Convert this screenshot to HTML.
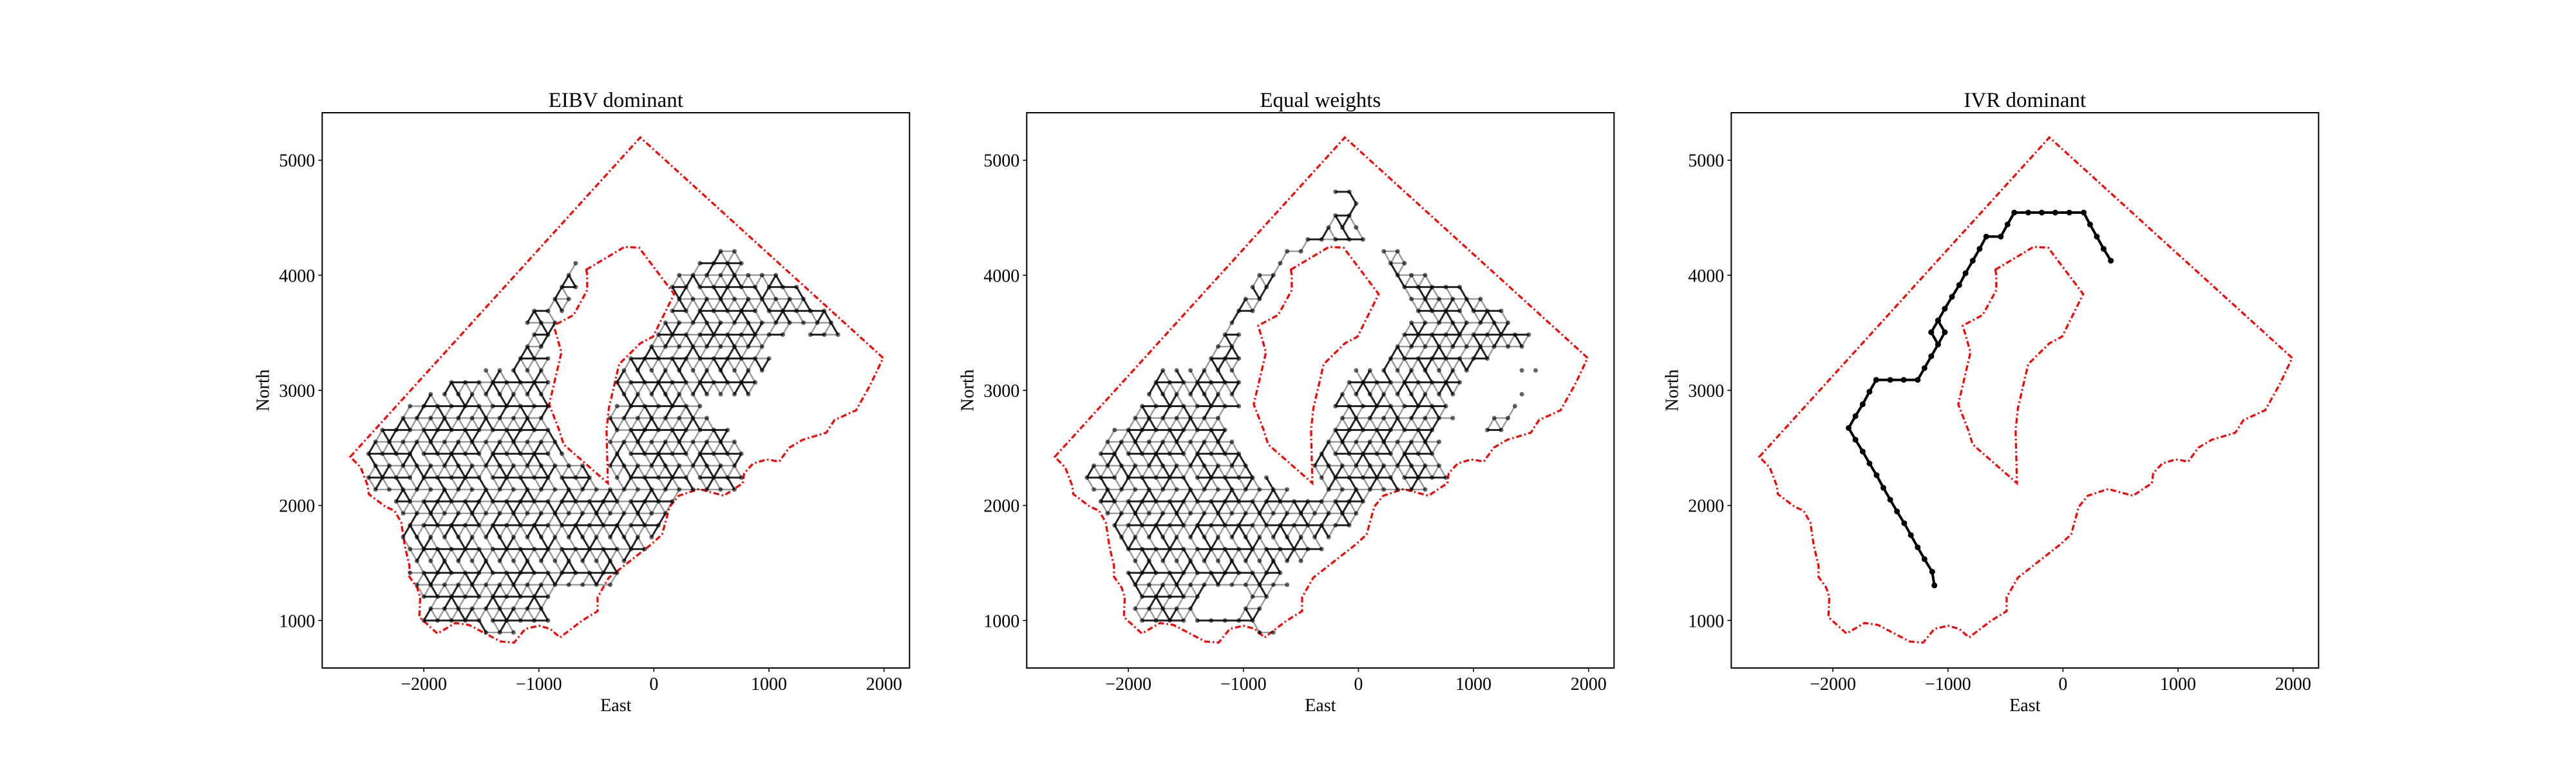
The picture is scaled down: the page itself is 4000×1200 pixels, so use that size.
<!DOCTYPE html>
<html><head><meta charset="utf-8"><style>
html,body{margin:0;padding:0;background:#fff}
svg{display:block}
text{font-family:"Liberation Serif",serif;fill:#000}
</style></head><body>
<svg id="fig" width="4000" height="1200" viewBox="0 0 4000 1200" xmlns="http://www.w3.org/2000/svg">
<rect width="4000" height="1200" fill="#fff"/>
</svg>
<script>
// ---- data ----
const panelTitles = ["EIBV dominant", "Equal weights", "IVR dominant"];
const xTicks = [-2000, -1000, 0, 1000, 2000];
const yTicks = [1000, 2000, 3000, 4000, 5000];
const outerX = [-2639,-118,1992,1882,1757,1569,1498,1294,1176,1090,980,863,784,773,608,392,216,137,71,-20,-392,-490,-490,-627,-816,-902,-1000,-1118,-1216,-1333,-1608,-1725,-1882,-2039,-2031,-2059,-2125,-2125,-2165,-2196,-2255,-2333,-2478,-2490,-2549];
const outerY = [2423,5198,3282,3050,2827,2742,2632,2571,2502,2382,2400,2365,2280,2194,2085,2143,2085,1989,1749,1664,1373,1202,1082,997,853,928,955,928,808,818,962,979,887,1031,1202,1287,1380,1476,1647,1852,1955,1989,2098,2177,2331];
const innerX = [-588,-255,-129,176,-8,-118,-302,-392,-412,-400,-784,-824,-910,-804,-871,-698,-580,-580];
const innerY = [4049,4247,4240,3837,3467,3409,3228,2844,2656,2194,2530,2656,2879,3330,3563,3655,3871,4000];
// panel 1 lattice: row index + x extents (data units)
const p1Rows = [-1,0,1,2,3,4,5,6,7,8,9,10,11,12,13,14,15,16,17,18,18,19,19,20,20,21,21,22,22,23,23,24,24,24,25,25,26,26,27,27,28,28,29,29,30,30,31];
const p1Min  = [-1449,-1998,-1998,-2055,-2043,-2092,-2111,-2111,-2168,-2149,-2206,-2225,-2414,-2452,-2452,-2471,-2414,-2339,-2168,-2111,-371,-1922,-371,-1752,-295,-1449,-295,-1203,-182,-1146,-11,-1090,45,1367,-1090,102,-1033,178,-903,178,-770,178,-725,235,-660,405,594];
const p1Max  = [-1203,-901,-901,-844,-295,-295,-219,-68,64,64,121,178,727,764,783,840,783,651,537,-901,462,-901,840,-938,897,-976,954,-938,1011,-976,954,-901,1140,1617,-844,1564,-787,1508,-711,1318,-655,1262,-655,1073,-655,783,727];
// panel 2 lattice
const p2Rows = [-1,0,1,1,2,2,3,3,4,5,6,7,8,9,10,11,11,12,12,13,13,14,14,15,15,16,16,16,17,17,17,18,18,18,19,19,19,20,20,20,21,21,21,22,22,23,23,24,24,25,25,26,26,27,27,28,28,29,29,30,30,31,31,32,33,34,35,36];
const p2Min  = [-850,-1876,-1924,-980,-1941,-931,-1941,-785,-1990,-1990,-2055,-2055,-2104,-2170,-2283,-2348,-313,-2348,-361,-2348,-361,-2299,-361,-2234,-313,-2169,-264,1071,-2006,-183,1120,-1876,-199,1314,-1876,-183,1364,-1810,-134,1412,-1762,-85,1364,-1339,225,-1273,273,-1208,338,-1160,404,-1046,469,-980,404,-915,355,-850,290,-736,225,-671,160,-492,-313,-264,-46,-264];
const p2Max  = [-736,-915,-1404,-850,-1388,-720,-655,-606,-606,-492,-296,-183,-68,-3,45,-541,664,-801,778,-931,778,-1046,729,-1046,778,-1095,713,1315,-1160,827,1380,-1030,827,1429,-1030,892,1478,-1030,940,1445,-1030,1006,1510,-1030,1120,-1030,1494,-1046,1478,-1046,1364,-850,1315,-850,1136,-801,959,-736,648,-686,404,-427,355,61,-17,-17,-17,-17];
// panel 3 path
const p3X = [-1118,-1137,-1204,-1263,-1322,-1380,-1443,-1502,-1561,-1620,-1682,-1741,-1804,-1863,-1804,-1741,-1682,-1624,-1502,-1384,-1263,-1204,-1145,-1086,-1145,-1086,-1027,-1086,-1145,-1086,-1027,-965,-902,-847,-784,-725,-667,-541,-482,-424,-302,-184,-67,55,180,235,294,353,416];
const p3Y = [1305,1424,1534,1636,1742,1845,1948,2050,2153,2263,2365,2468,2571,2673,2776,2879,2988,3091,3091,3091,3091,3193,3296,3399,3505,3607,3505,3399,3505,3607,3710,3813,3915,4018,4127,4230,4336,4336,4442,4545,4545,4545,4545,4545,4545,4442,4336,4230,4127];

// ---- layout ----
const NS = "http://www.w3.org/2000/svg";
const svg = document.getElementById('fig');
const AX_L0 = 500.3, AX_DX = 1094, AX_T = 175, AX_W = 912, AX_H = 862;
const K = 0.17865, X0OFF = 515.1, Y5000 = 248.7;
function sx(p, x){ return AX_L0 + p*AX_DX + X0OFF + x*K; }
function sy(y){ return Y5000 + (5000 - y)*K; }
function mk(tag, attrs, parent){ const e=document.createElementNS(NS,tag); for(const k in attrs) e.setAttribute(k,attrs[k]); (parent||svg).appendChild(e); return e; }
function pip(x,y,X,Y){ let c=false; for(let i=0,j=X.length-1;i<X.length;j=i++){ if(((Y[i]>y)!==(Y[j]>y)) && (x < (X[j]-X[i])*(y-Y[i])/(Y[j]-Y[i])+X[i])) c=!c; } return c; }
const DX=120, DY=103.5;
function nodeX(r,i){ return -2000 + i*DX + ((r%2+2)%2 ? 60 : 0); }
function rowY(r){ return 1000 + r*DY; }
const DASH = '9,4,2.5,4';

function drawBoundary(p, g){
  const o = outerX.map((x,i)=>sx(p,x).toFixed(1)+','+sy(outerY[i]).toFixed(1)).join(' ');
  const e1 = mk('polygon',{points:o,fill:'none',stroke:'#ff0000','stroke-width':3.2,'stroke-dasharray':DASH},g);
  
  
  const n = innerX.map((x,i)=>sx(p,x).toFixed(1)+','+sy(innerY[i]).toFixed(1)).join(' ');
  const e2 = mk('polygon',{points:n,fill:'none',stroke:'#ff0000','stroke-width':3.2,'stroke-dasharray':DASH},g);
  
  
}

function drawLattice(p, rows, mins, maxs, g){
  const set = new Set();
  for(let k=0;k<rows.length;k++){
    const r=rows[k];
    for(let i=-10;i<50;i++){
      const x=nodeX(r,i);
      if(x>=mins[k]-30 && x<=maxs[k]+30 && !pip(x,rowY(r),innerX,innerY)) set.add(r+':'+i);
    }
  }
  const has=(r,i)=>set.has(r+':'+i);
  const edges=[];
  set.forEach(key=>{
    const [r,i]=key.split(':').map(Number);
    const x=nodeX(r,i), y=rowY(r);
    const odd=((r%2)+2)%2;
    const cand=[[r,i+1,0]];
    if(odd){ cand.push([r+1,i,1],[r+1,i+1,2]); } else { cand.push([r+1,i-1,1],[r+1,i,2]); }
    cand.forEach(c=>{
      if(!has(c[0],c[1])) return;
      const x2=nodeX(c[0],c[1]), y2=rowY(c[0]);
      if(pip((x+x2)/2,(y+y2)/2,innerX,innerY)) return;
      let dark;
      if(c[2]===0) dark = ((r%2)+2)%2===0 && ((i%5)+5)%5!==4;
      else if(c[2]===1) dark = ((i+r)%3+3)%3===0;
      else dark = ((i-r)%3+3)%3===0;
      if(!dark && ((i*7+r*3+c[2]*5)%7+7)%7<2) return;
      edges.push([x,y,x2,y2,dark]);
    });
  });
  edges.sort((a,b)=>a[4]-b[4]);
  edges.forEach(e=>{
    const l=mk('line',{x1:sx(p,e[0]).toFixed(1),y1:sy(e[1]).toFixed(1),x2:sx(p,e[2]).toFixed(1),y2:sy(e[3]).toFixed(1),
      stroke:'#000','stroke-opacity':e[4]?0.85:0.4,'stroke-width':e[4]?3:2.4},g);
    
    
  });
  set.forEach(key=>{
    const [r,i]=key.split(':').map(Number);
    const c=mk('circle',{cx:sx(p,nodeX(r,i)).toFixed(1),cy:sy(rowY(r)).toFixed(1),r:3.5,fill:'#000','fill-opacity':0.6},g);
    
    
  });
}

function drawPath(p, X, Y, g){
  const pts = X.map((x,i)=>sx(p,x).toFixed(1)+','+sy(Y[i]).toFixed(1)).join(' ');
  const pl=mk('polyline',{points:pts,fill:'none',stroke:'#000','stroke-width':4,'stroke-linejoin':'round'},g);
  
  
  X.forEach((x,i)=>{
    const c=mk('circle',{cx:sx(p,x).toFixed(1),cy:sy(Y[i]).toFixed(1),r:4.5,fill:'#000'},g);
    
    
  });
}

for(let p=0;p<3;p++){
  const L = AX_L0 + p*AX_DX;
  const g = mk('g',{});
  
  
  const clip = mk('clipPath',{id:'clip'+p}); mk('rect',{x:L,y:AX_T,width:AX_W,height:AX_H},clip);
  const plot = mk('g',{'clip-path':'url(#clip'+p+')'},g);
  
  
  drawBoundary(p, plot);
  if(p===0) drawLattice(0,p1Rows,p1Min,p1Max,plot);
  if(p===1) drawLattice(1,p2Rows,p2Min,p2Max,plot);
  if(p===2) drawPath(2,p3X,p3Y,plot);
  const fr=mk('rect',{x:L,y:AX_T,width:AX_W,height:AX_H,fill:'none',stroke:'#000','stroke-width':2},g);
  
  
  xTicks.forEach(t=>{
    const x=sx(p,t);
    const tk=mk('line',{x1:x,y1:AX_T+AX_H,x2:x,y2:AX_T+AX_H+6,stroke:'#000','stroke-width':1.6},g);
    
    
    const tx=mk('text',{x:x,y:1071,'text-anchor':'middle','font-size':28},g);
    tx.textContent = t<0 ? '\u2212'+(-t) : String(t);
    
    
  });
  yTicks.forEach(t=>{
    const y=sy(t);
    const tk=mk('line',{x1:L-6,y1:y,x2:L,y2:y,stroke:'#000','stroke-width':1.6},g);
    
    
    const tx=mk('text',{x:L-11,y:y+10,'text-anchor':'end','font-size':28},g);
    tx.textContent=String(t);
    
    
  });
  const xl=mk('text',{x:L+AX_W/2,y:1104,'text-anchor':'middle','font-size':28},g);
  xl.textContent='East';
  
  
  const yl=mk('text',{x:0,y:0,'text-anchor':'middle','font-size':28,transform:'translate('+(L-83)+','+(AX_T+AX_H/2)+') rotate(-90)'},g);
  yl.textContent='North';
  
  
  const tt=mk('text',{x:L+AX_W/2,y:166,'text-anchor':'middle','font-size':33},g);
  tt.textContent=panelTitles[p];
  
  
}
</script>
</body></html>
